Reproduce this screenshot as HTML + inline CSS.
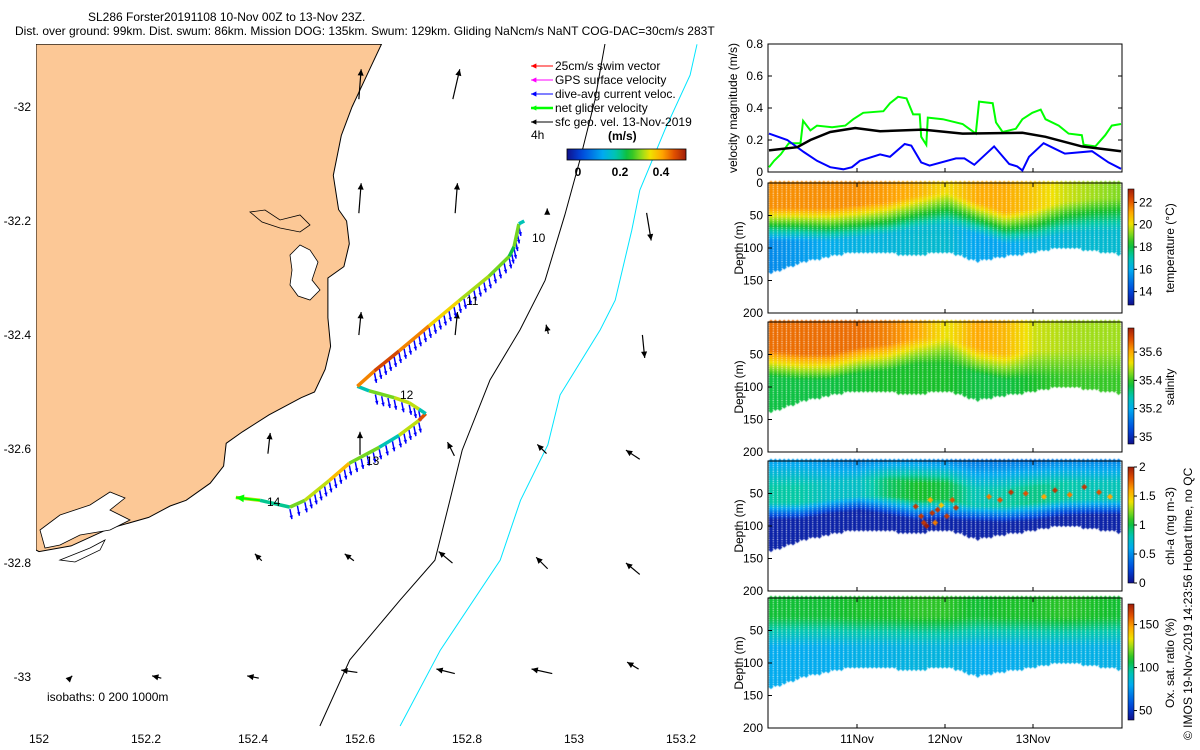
<!DOCTYPE html>
<html><head><meta charset="utf-8">
<style>
body{margin:0;background:#fff;}
#wrap{position:relative;width:1200px;height:750px;overflow:hidden;font-family:"Liberation Sans",sans-serif;}
svg text{font-family:"Liberation Sans",sans-serif;font-size:12px;fill:#000;}
canvas{position:absolute;left:0;top:0;}
</style></head>
<body>
<div id="wrap">
<canvas id="dots" width="1200" height="750"></canvas>
<svg id="svg" width="1200" height="750" style="position:absolute;left:0;top:0"></svg>
</div>
<script>
// ---- velocity series (hours since 10-Nov 00Z, m/s) ----
const greenH=[0,1.4,3.2,5.4,8.6,9.3,11.3,13.1,17.2,20.8,23,25.7,31.2,33,35.2,37.5,39.3,41.1,41.5,42.9,43.3,47.4,52.8,56.4,57.3,61,61.9,63.7,67.3,69.1,71.8,74.1,75.4,79,81.7,85.3,85.8,89,91.7,93.5,96];
const greenV=[0.03,0.07,0.11,0.18,0.18,0.32,0.26,0.29,0.28,0.29,0.33,0.37,0.38,0.43,0.47,0.46,0.36,0.36,0.22,0.17,0.34,0.33,0.30,0.24,0.44,0.43,0.31,0.25,0.27,0.33,0.37,0.39,0.33,0.29,0.24,0.23,0.17,0.16,0.23,0.29,0.30];
const blackH=[0,7.7,11.3,16.7,23.5,30.3,42,52.8,69.1,75.4,85.3,96];
const blackV=[0.135,0.155,0.20,0.25,0.275,0.255,0.265,0.24,0.245,0.22,0.16,0.13];
const blueH=[0,5,9.5,13.1,16.7,20.3,22.6,24.8,30.3,33,37,38.8,41.5,43.8,51,53.3,56,61.4,65.5,67.7,69.1,70.9,74.9,78,80.7,88.1,92.6,96];
const blueV=[0.24,0.20,0.125,0.07,0.03,0.017,0.03,0.07,0.11,0.095,0.175,0.165,0.06,0.04,0.085,0.085,0.045,0.16,0.05,0.035,0.01,0.095,0.18,0.145,0.115,0.13,0.06,0.02];
const velTicks=[0,0.2,0.4,0.6,0.8];
const dayLabels=['11Nov','12Nov','13Nov'];
const dayHours=[24,48,72];
// ---- profile section nodes every 8 h ----
const nodeH=[0,8,16,24,32,40,48,56,64,72,80,88,96];
const bottomD=[138,122,112,105,108,110,105,120,112,106,98,104,110];
const tMld=[55,55,55,50,45,35,30,45,60,55,45,40,40];
const tSurf=[21.4,21.4,21.4,21.4,21.2,20.9,20.2,21,21,20.5,19.8,19.4,19.1];
const tDeep=[15.3,15.6,16,16.2,16.3,16.5,16.5,15.8,15.8,16.2,16.3,16.5,16.5];
const sMld=[60,65,65,55,50,40,40,55,65,60,60,60,60];
const sSurf=[35.66,35.66,35.66,35.66,35.64,35.6,35.52,35.6,35.58,35.5,35.48,35.47,35.47];
const sDeep=[35.36,35.36,35.36,35.37,35.38,35.38,35.38,35.36,35.36,35.38,35.4,35.4,35.4];
const cSurf=[0.55,0.55,0.5,0.45,0.5,0.5,0.45,0.4,0.4,0.4,0.45,0.45,0.45];
const cMax=[0.85,0.85,0.75,0.75,0.95,1.05,1.0,0.8,0.85,0.9,0.85,0.8,0.8];
const cMld=[65,65,60,55,55,60,60,70,70,65,60,60,60];
const oSurf=[108,108,108,110,110,112,112,108,110,110,112,110,108];
const oDeep=[80,80,80,82,82,84,84,80,80,82,82,82,82];
const chlSpeckH=[40,41.5,42.2,43,44,44.5,45.3,46,47,48.5,50,51,60,63,66,70,75,78,82,86,90,93];
const chlSpeckD=[70,85,95,100,60,80,95,75,68,85,60,72,55,60,48,50,55,45,52,40,48,55];
const chlSpeckV=[1.9,1.9,1.9,2,1.6,1.9,1.7,1.9,1.5,1.9,1.8,1.9,1.7,1.8,1.9,1.8,1.6,1.9,1.7,1.9,1.8,1.6];
// ---- map data ----
const lonTicks=[152,152.2,152.4,152.6,152.8,153,153.2];
const latTicks=[-32,-32.2,-32.4,-32.6,-32.8,-33];
const arrLon=[152.6,152.78,152.6,152.78,152.95,153.14,152.6,152.78,152.95,153.13,152.43,152.6,152.77,152.94,153.11,152.41,152.58,152.76,152.94,153.11,152.06,152.22,152.4,152.58,152.76,152.94,153.11];
const arrLat=[-31.96,-31.96,-32.16,-32.16,-32.18,-32.21,-32.38,-32.38,-32.39,-32.42,-32.59,-32.59,-32.6,-32.6,-32.61,-32.79,-32.79,-32.79,-32.8,-32.81,-33.0,-33.0,-33.0,-32.99,-32.99,-32.99,-32.98];
const arrU=[0.01,0.03,0.01,0.01,0,0.02,0.01,0.01,-0.01,0.01,0.01,0,-0.03,-0.04,-0.06,-0.03,-0.04,-0.06,-0.05,-0.06,0.01,-0.04,-0.05,-0.07,-0.08,-0.09,-0.05];
const arrV=[0.13,0.13,0.13,0.13,0.01,-0.12,0.1,0.1,0.04,-0.1,0.09,0.1,0.06,0.04,0.04,0.03,0.03,0.05,0.05,0.05,0.01,0.01,0.01,0.01,0.02,0.02,0.03];
const trkLon=[152.368,152.413,152.469,152.497,152.543,152.58,152.636,152.673,152.71,152.723,152.71,152.692,152.664,152.617,152.595,152.627,152.673,152.729,152.785,152.841,152.879,152.888,152.897,152.907];
const trkLat=[-32.685,-32.69,-32.702,-32.69,-32.655,-32.625,-32.597,-32.576,-32.55,-32.538,-32.53,-32.519,-32.51,-32.498,-32.49,-32.463,-32.428,-32.384,-32.34,-32.297,-32.262,-32.245,-32.205,-32.2];
const trkSpd=[0.2,0.33,0.22,0.3,0.33,0.38,0.3,0.2,0.33,0.45,0.2,0.33,0.33,0.3,0.2,0.42,0.46,0.42,0.36,0.32,0.3,0.25,0.3,0.2];
const isoBlackLon=[152.525,152.581,152.675,152.74,152.768,152.791,152.843,152.899,152.946,152.983,153.011,153.039,153.058];
const isoBlackLat=[-33.086,-32.97,-32.865,-32.795,-32.69,-32.602,-32.479,-32.391,-32.304,-32.189,-32.093,-31.988,-31.889];
const isoCyanLon=[152.675,152.75,152.862,152.9,152.951,152.974,153.049,153.077,153.108,153.123,153.17,153.217,153.23];
const isoCyanLat=[-33.086,-32.953,-32.795,-32.69,-32.593,-32.505,-32.391,-32.339,-32.216,-32.146,-32.04,-31.944,-31.89];
const coastLon=[152.64,152.62,152.6,152.585,152.565,152.55,152.56,152.575,152.58,152.57,152.54,152.54,152.545,152.535,152.515,152.49,152.43,152.38,152.35,152.345,152.32,152.275,152.245,152.205,152.13,152.06,152.0];
const coastLat=[-31.89,-31.93,-31.97,-32.0,-32.05,-32.12,-32.18,-32.2,-32.24,-32.28,-32.3,-32.37,-32.42,-32.46,-32.5,-32.51,-32.54,-32.57,-32.59,-32.63,-32.66,-32.69,-32.7,-32.72,-32.74,-32.77,-32.78];
</script>
<script>
const NS='http://www.w3.org/2000/svg';
const svg=document.getElementById('svg');
function mk(tag,attrs,parent,txt){const e=document.createElementNS(NS,tag);for(const k in attrs)e.setAttribute(k,attrs[k]);if(txt!==undefined)e.textContent=txt;(parent||svg).appendChild(e);return e;}
function lonX(l){return 39+(l-152)*535;}
function latY(a){return 107+(-32-a)*570;}
function tX(h){return 769+h*88/24;}
function interp(xs,ys,x){if(x<=xs[0])return ys[0];for(let i=1;i<xs.length;i++){if(x<=xs[i]){const f=(x-xs[i-1])/(xs[i]-xs[i-1]);return ys[i-1]+f*(ys[i]-ys[i-1]);}}return ys[ys.length-1];}
const cmS=[0,0.12,0.3,0.42,0.52,0.62,0.7,0.8,0.9,1];
const cmC=[[16,16,140],[0,70,220],[0,170,240],[0,200,170],[16,190,40],[140,220,30],[240,225,0],[255,165,0],[225,80,0],[160,30,10]];
function jet(v){v=Math.max(0,Math.min(1,v));let i=1;while(i<cmS.length-1&&v>cmS[i])i++;const f=(v-cmS[i-1])/(cmS[i]-cmS[i-1]);const a=cmC[i-1],b=cmC[i];return 'rgb('+Math.round(a[0]+f*(b[0]-a[0]))+','+Math.round(a[1]+f*(b[1]-a[1]))+','+Math.round(a[2]+f*(b[2]-a[2]))+')';}

// ===== titles =====
let t=mk('text',{x:88,y:21},svg,'SL286 Forster20191108 10-Nov 00Z to 13-Nov 23Z.');

t=mk('text',{x:15,y:35},svg,'Dist. over ground: 99km. Dist. swum: 86km. Mission DOG: 135km. Swum: 129km. Gliding NaNcm/s NaNT COG-DAC=30cm/s 283T');


// ===== map =====
const map=mk('g',{});

const defs=mk('defs',{});
const cp=mk('clipPath',{id:'mapclip'},defs);mk('rect',{x:36,y:44,width:686,height:683},cp);
const mg=mk('g',{'clip-path':'url(#mapclip)'},map);
let lp='M36,44 ';
for(let i=0;i<coastLon.length;i++)lp+='L'+lonX(coastLon[i]).toFixed(1)+','+latY(coastLat[i]).toFixed(1)+' ';
lp+='L36,550 Z';
let land=mk('path',{d:lp,fill:'#fcc896',stroke:'#000','stroke-width':1},mg);

// estuaries
mk('path',{d:'M290,255 L300,245 L310,250 L318,262 L312,280 L320,290 L310,300 L298,296 L290,285 L292,270 Z',fill:'#fff',stroke:'#000','stroke-width':0.8},mg);
mk('path',{d:'M250,212 L265,210 L280,220 L300,215 L310,225 L300,232 L280,228 L262,222 Z',fill:'none',stroke:'#000','stroke-width':0.8},mg);
mk('path',{d:'M40,530 L60,515 L90,505 L110,492 L125,498 L110,510 L130,520 L110,530 L80,535 L60,545 L45,548 Z',fill:'#fff',stroke:'#000','stroke-width':0.8},mg);
mk('path',{d:'M60,560 L90,548 L105,540 L100,550 L75,562 Z',fill:'#fff',stroke:'#000','stroke-width':0.8},mg);
// isobaths
let ib='';isoBlackLon.forEach((l,i)=>ib+=(i?'L':'M')+lonX(l).toFixed(1)+','+latY(isoBlackLat[i]).toFixed(1));
let e=mk('path',{d:ib,fill:'none',stroke:'#000','stroke-width':1},mg);

let ic='';isoCyanLon.forEach((l,i)=>ic+=(i?'L':'M')+lonX(l).toFixed(1)+','+latY(isoCyanLat[i]).toFixed(1));
e=mk('path',{d:ic,fill:'none',stroke:'#00e5ff','stroke-width':1},mg);

// geostrophic arrows
function arrow(x1,y1,x2,y2,col,w,hs,parent){const a=Math.atan2(y2-y1,x2-x1);mk('line',{x1:x1,y1:y1,x2:x2,y2:y2,stroke:col,'stroke-width':w},parent);
mk('polygon',{points:x2+','+y2+' '+(x2-hs*Math.cos(a-0.45))+','+(y2-hs*Math.sin(a-0.45))+' '+(x2-hs*Math.cos(a+0.45))+','+(y2-hs*Math.sin(a+0.45)),fill:col},parent);}
const ga=mk('g',{},mg);
for(let i=0;i<arrLon.length;i++){const x=lonX(arrLon[i]),y=latY(arrLat[i]);const dx=arrU[i]*230,dy=-arrV[i]*230;arrow(x-dx/2,y-dy/2,x+dx/2,y+dy/2,'#000',1.2,7,ga);}
// glider track
const tg=mk('g',{},mg);
const bg=mk('g',{},tg);
const lg2=mk('g',{},tg);
for(let i=1;i<trkLon.length;i++){const x1=lonX(trkLon[i-1]),y1=latY(trkLat[i-1]),x2=lonX(trkLon[i]),y2=latY(trkLat[i]);
 if(i>=3&&i!==10&&i!==14&&i!==15){const n=Math.max(1,Math.round(Math.hypot(x2-x1,y2-y1)/7));for(let k=0;k<n;k++){const x=x1+(x2-x1)*k/n,y=y1+(y2-y1)*k/n;arrow(x,y+2,x+2,y+12,'#0000ff',1.5,4,bg);}}
 mk('line',{x1:x1,y1:y1,x2:x2,y2:y2,stroke:jet(trkSpd[i]/0.5),'stroke-width':3.5},lg2);}
arrow(lonX(trkLon[1]),latY(trkLat[1]),lonX(trkLon[0]),latY(trkLat[0]),'#00ff00',2,9,tg);
const dayLab=[['10',532,242],['11',466,305],['12',400,399],['13',366,465],['14',267,506]];
dayLab.forEach(d=>{const q=mk('text',{x:d[1],y:d[2]},mg,d[0]);});
// axes ticks map
lonTicks.forEach(l=>{const q=mk('text',{x:lonX(l),y:743,'text-anchor':'middle'},map,String(l));});
latTicks.forEach(a=>{const q=mk('text',{x:31,y:latY(a)+4,'text-anchor':'end'},map,String(a));});
t=mk('text',{x:47,y:701},map,'isobaths: 0   200   1000m');t.setAttribute('xml:space','preserve');
// legend
const lg=mk('g',{});
const legItems=[['25cm/s swim vector','#ff0000',1],['GPS surface velocity','#ff00ff',1],['dive-avg current veloc.','#0000ff',1],['net glider velocity','#00ff00',2.5],['sfc geo. vel. 13-Nov-2019','#000',1]];
legItems.forEach((it,i)=>{const y=66+i*14;const g=mk('g',{},lg);arrow(553,y,531,y,it[1],it[2],6,g);mk('text',{x:555,y:y+4},g,it[0]);});
mk('text',{x:531,y:139},lg,'4h');
mk('text',{x:608,y:140,'font-weight':'bold'},lg,'(m/s)');
const cbg=mk('linearGradient',{id:'jetg',x1:0,x2:1,y1:0,y2:0},defs);
for(let i=0;i<=20;i++)mk('stop',{offset:i/20,'stop-color':jet(i/20)},cbg);
let cb=mk('rect',{x:567,y:149,width:119,height:11,fill:'url(#jetg)',stroke:'#000','stroke-width':0.8},lg);
[['0',578],['0.2',620],['0.4',661]].forEach(p=>mk('text',{x:p[1],y:176,'text-anchor':'middle','font-weight':'bold'},lg,p[0]));

// ===== velocity panel =====
const X0=768,X1=1122;
const vp=mk('g',{});
function vY(v){return 172-v*160;}
mk('rect',{x:X0,y:44,width:X1-X0,height:128,fill:'none',stroke:'#000','stroke-width':1},vp);
velTicks.forEach(v=>{mk('line',{x1:X0,x2:X0+4,y1:vY(v),y2:vY(v),stroke:'#000'},vp);mk('line',{x1:X1-4,x2:X1,y1:vY(v),y2:vY(v),stroke:'#000'},vp);const q=mk('text',{x:X0-5,y:vY(v)+4,'text-anchor':'end'},vp,String(v));});
t=mk('text',{transform:'translate(737,108) rotate(-90)','text-anchor':'middle'},vp,'velocity magnitude (m/s)');
function poly(H,V,col,w,name){let d='';H.forEach((h,i)=>d+=(i?'L':'M')+tX(h).toFixed(1)+','+vY(V[i]).toFixed(1));const p=mk('path',{d:d,fill:'none',stroke:col,'stroke-width':w},vp);}
poly(greenH,greenV,'#00ff00',2,'net-glider-velocity-line');
poly(blueH,blueV,'#0000ff',2,'dive-avg-current-line');
poly(blackH,blackV,'#000',2.5,'geostrophic-velocity-line');

// ===== section panels =====
const panels=[
 {top:183,name:'temperature',label:'temperature (°C)',min:12.8,max:23.2,ticks:[22,20,18,16,14],tl:['22','20','18','16','14']},
 {top:322,name:'salinity',label:'salinity',min:34.95,max:35.77,ticks:[35.6,35.4,35.2,35],tl:['35.6','35.4','35.2','35']},
 {top:461,name:'chlorophyll',label:'chl-a (mg m-3)',min:0,max:2,ticks:[2,1.5,1,0.5,0],tl:['2','1.5','1','0.5','0']},
 {top:598,name:'oxygen',label:'Ox. sat. ratio (%)',min:39,max:174,ticks:[150,100,50],tl:['150','100','50']}];
function val(p,h,d){
 if(p===0){const m=interp(nodeH,tMld,h),s=interp(nodeH,tSurf,h),dp=interp(nodeH,tDeep,h);const f=Math.max(0,Math.min(1,(d-m+15)/50));return s-(s-dp)*f;}
 if(p===1){const m=interp(nodeH,sMld,h),s=interp(nodeH,sSurf,h),dp=interp(nodeH,sDeep,h);const f=Math.max(0,Math.min(1,(d-m+15)/40));return s-(s-dp)*f;}
 if(p===2){const m=interp(nodeH,cMld,h),s=interp(nodeH,cSurf,h),mx=interp(nodeH,cMax,h);if(d<m-25)return s+(mx-s)*Math.max(0,d/(m-25));if(d<m)return mx;return Math.max(0.08,mx-(d-m)*0.03);}
 const s=interp(nodeH,oSurf,h),dp=interp(nodeH,oDeep,h);const f=Math.max(0,Math.min(1,(d-30)/45));return s-(s-dp)*f;}
const ctx=document.getElementById('dots').getContext('2d');
function diamond(x,y,r,col){ctx.fillStyle=col;ctx.beginPath();ctx.moveTo(x,y-r);ctx.lineTo(x+r,y);ctx.lineTo(x,y+r);ctx.lineTo(x-r,y);ctx.fill();}
panels.forEach((P,pi)=>{
 const g=mk('g',{});
 const yD=d=>P.top+d*0.65;
 for(let h=0;h<95.5;h+=1.2){const bd=interp(nodeH,bottomD,h);const x=tX(h)+2;
  for(let d=0;d<=bd;d+=3.5){const v=val(pi,h,d);diamond(x,yD(d),2.6,jet((v-P.min)/(P.max-P.min)));}}
 if(pi===2){for(let i=0;i<chlSpeckH.length;i++)diamond(tX(chlSpeckH[i]),yD(chlSpeckD[i]),3,jet(chlSpeckV[i]/2));}
 mk('rect',{x:X0,y:P.top,width:X1-X0,height:130,fill:'none',stroke:'#000','stroke-width':1},g);
 [50,100,150,200].forEach(d=>{mk('line',{x1:X0,x2:X0+4,y1:yD(d),y2:yD(d),stroke:'#000'},g);const q=mk('text',{x:X0-5,y:yD(d)+4,'text-anchor':'end'},g,String(d));});
 dayHours.forEach(h=>{mk('line',{x1:tX(h),x2:tX(h),y1:P.top+130,y2:P.top+126,stroke:'#000'},g);mk('line',{x1:tX(h),x2:tX(h),y1:P.top,y2:P.top+4,stroke:'#000'},g);});
 const yt=mk('text',{transform:'translate(743,'+(P.top+65)+') rotate(-90)','text-anchor':'middle'},g,'Depth (m)');
 const cb0=P.top+6,cb1=P.top+122;const gid='cg'+pi;const lgd=mk('linearGradient',{id:gid,x1:0,x2:0,y1:1,y2:0},defs);
 for(let i=0;i<=20;i++)mk('stop',{offset:i/20,'stop-color':jet(i/20)},lgd);
 const r=mk('rect',{x:1128,y:cb0,width:6,height:cb1-cb0,fill:'url(#'+gid+')',stroke:'#000','stroke-width':0.6},g);
 P.ticks.forEach((v,i)=>{const y=cb1-(v-P.min)/(P.max-P.min)*(cb1-cb0);mk('line',{x1:1134,x2:1137,y1:y,y2:y,stroke:'#000'},g);mk('text',{x:1139,y:y+4},g,P.tl[i]);});
 const ct=mk('text',{transform:'translate(1174,'+(P.top+65)+') rotate(-90)','text-anchor':'middle'},g,P.label);
});
mk('text',{x:X0-5,y:187,'text-anchor':'end'},svg,'0');
dayHours.forEach((h,i)=>{mk('line',{x1:tX(h),x2:tX(h),y1:172,y2:168,stroke:'#000'});const q=mk('text',{x:tX(h),y:743,'text-anchor':'middle'},svg,dayLabels[i]);});
t=mk('text',{transform:'translate(1192,740) rotate(-90)'},svg,'© IMOS 19-Nov-2019 14:23:56 Hobart time, no QC');
</script>
</body></html>
